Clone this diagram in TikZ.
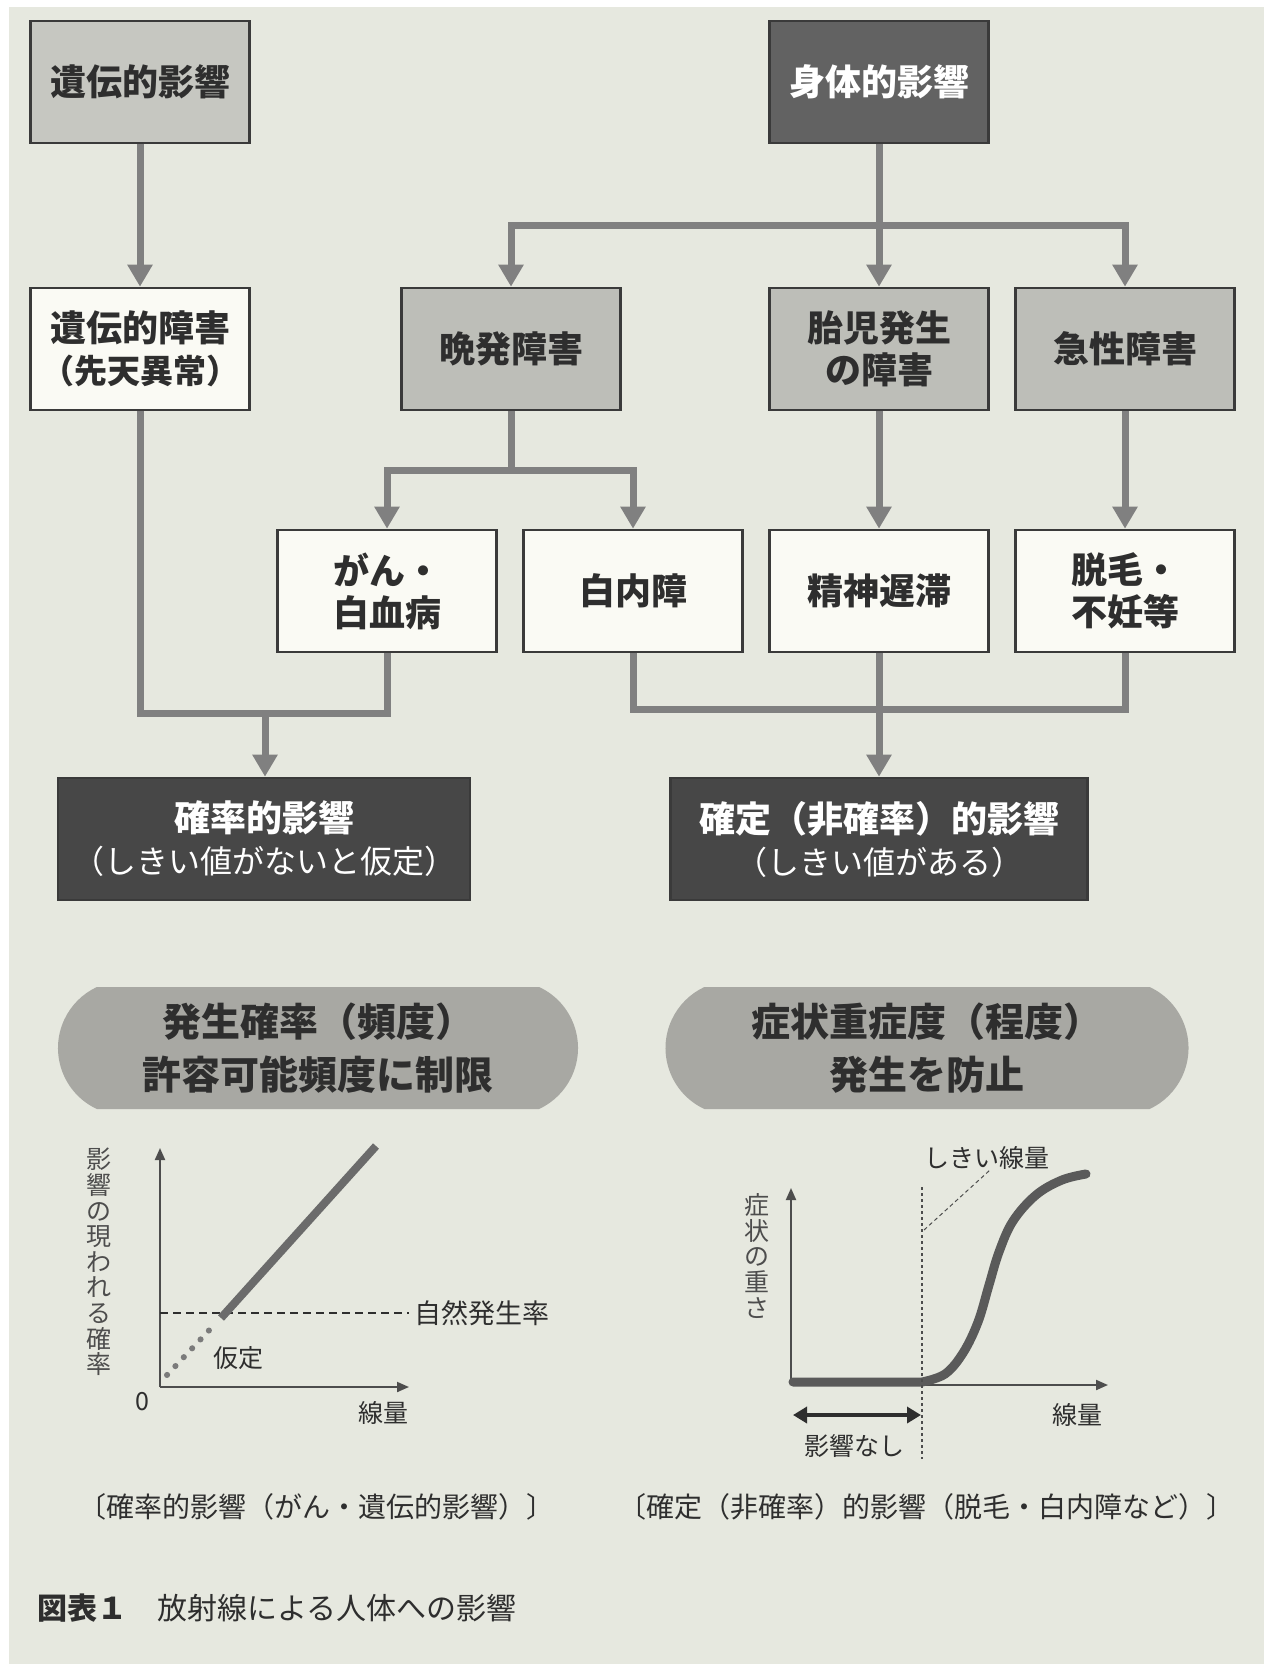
\documentclass[tikz,border=0pt]{standalone}
\usepackage{fontspec}
\setmainfont{Noto Sans CJK JP}
\usetikzlibrary{arrows.meta,shapes.misc,calc}
\definecolor{bgc}{HTML}{E6E8DF}
\definecolor{gboxa}{HTML}{C6C7C1}
\definecolor{gbox}{HTML}{BDBEB8}
\definecolor{wbox}{HTML}{FAFAF4}
\definecolor{dboxa}{HTML}{626262}
\definecolor{dbox}{HTML}{474747}
\definecolor{pillc}{HTML}{A8A8A3}
\definecolor{connc}{HTML}{808080}
\definecolor{boxline}{HTML}{3A3A3A}
\definecolor{txt}{HTML}{2E2E2E}
\definecolor{curvec}{HTML}{5A5A5A}
\begin{document}
\begin{tikzpicture}[x=0.5pt,y=-0.5pt,
  box/.style={draw=boxline, line width=1.3pt, minimum width=109.5pt, minimum height=61pt,
    inner sep=0pt, align=center, text=txt, font=\fontsize{18}{21}\selectfont\bfseries},
  grayboxa/.style={box, fill=gboxa},
  graybox/.style={box, fill=gbox},
  whitebox/.style={box, fill=wbox},
  darkbox/.style={box, fill=dbox, text=white, minimum height=61pt},
  pill/.style={rounded rectangle, rounded rectangle arc length=130, fill=pillc, minimum height=61pt,
    inner sep=0pt, align=center, text=txt, font=\fontsize{19.5}{26.5}\selectfont\bfseries},
  conn/.style={draw=connc, line width=3.5pt},
  arr/.style={conn, -{Triangle[width=12pt,length=11pt]}},
  darr/.style={conn, {Triangle[width=12pt,length=11pt]}-{Triangle[width=12pt,length=11pt]}},
  axisline/.style={draw=txt!85, line width=1pt, -{Triangle[width=5pt,length=6pt]}},
  lbl/.style={text=txt, font=\fontsize{12.5}{13}\selectfont, inner sep=0pt},
  vlbl/.style={text=txt!85, font=\fontsize{12.5}{12.8}\selectfont, inner sep=0pt, align=center},
  captext/.style={text=txt, font=\fontsize{14}{16}\selectfont, inner sep=0pt}
]
\fill[white] (0,0) rectangle (1264,1664);
\fill[bgc] (9,7) rectangle (1264,1664);
\useasboundingbox (0,0) rectangle (1264,1664);

% top row
\node[grayboxa] (iden1) at (140,82) {遺伝的影響};
\node[box, fill=dboxa, text=white] (shintai) at (879,82) {身体的影響};
% second row
\node[whitebox] (iden2) at (140,349) {遺伝的障害\\{\fontsize{16.5}{19}\selectfont （先天異常）}};
\node[graybox] (banpatsu) at (511,349) {晩発障害};
\node[graybox] (taiji) at (879,349) {胎児発生\\の障害};
\node[graybox] (kyusei) at (1125,349) {急性障害};
% third row
\node[whitebox] (gan) at (387,591) {がん・\\白血病};
\node[whitebox] (hakunai) at (633,591) {白内障};
\node[whitebox] (seishin) at (879,591) {精神遅滞};
\node[whitebox] (datsumo) at (1125,591) {脱毛・\\不妊等};
% result boxes
\node[darkbox, minimum width=206pt] (kakuritsu) at (264,839)
  {確率的影響\\{\fontsize{16}{20}\selectfont\mdseries （しきい値がないと仮定）}};
\node[darkbox, minimum width=208.5pt] (kakutei) at (879,839)
  {確定（非確率）的影響\\{\fontsize{16}{20}\selectfont\mdseries （しきい値がある）}};
% pills
\node[pill, minimum width=260pt] (pillL) at (318,1048) {発生確率（頻度）\\許容可能頻度に制限};
\node[pill, minimum width=261.5pt] (pillR) at (927,1048) {症状重症度（程度）\\発生を防止};

% connectors
\coordinate (j1) at (879,226);
\coordinate (j2) at (511,470);
\coordinate (jl) at (265,713);
\coordinate (jr) at (879,709);
\draw[arr] (iden1.south) -- (iden2.north);
\draw[arr] (shintai.south) -- (taiji.north);
\draw[darr] (banpatsu.north) |- (j1) -| (kyusei.north);
\draw[conn] (banpatsu.south) -- (j2);
\draw[darr] (gan.north) |- (j2) -| (hakunai.north);
\draw[arr] (taiji.south) -- (seishin.north);
\draw[arr] (kyusei.south) -- (datsumo.north);
\draw[conn] (iden2.south) |- (jl) -| (gan.south);
\draw[arr] (jl) -- (jl |- kakuritsu.north);
\draw[conn] (hakunai.south) |- (jr) -| (datsumo.south);
\draw[arr] (seishin.south) -- (kakutei.north);

% left graph
\coordinate (o1) at (160,1387);
\coordinate (yt1) at (160,1148);
\coordinate (xe1) at (409,1387);
\draw[axisline] (o1) -- (yt1);
\draw[axisline] (o1) -- (xe1);
\coordinate (nat1) at (160,1313);
\coordinate (nat2) at (409,1313);
\draw[txt, line width=0.7pt, dash pattern=on 4pt off 2.5pt] (nat1) -- (nat2);
\node[lbl, anchor=west, font=\fontsize{13.5}{14}\selectfont] (natlbl) at (414,1313) {自然発生率};
\coordinate (ls1) at (221,1318);
\coordinate (ls2) at (376,1146);
\draw[draw=curvec!90, line width=4pt] (ls1) -- (ls2);
\coordinate (ld1) at (167,1375);
\coordinate (ld2) at (216,1323);
\draw[draw=curvec!80, line width=3pt, line cap=round, dash pattern=on 0.1pt off 6pt] (ld1) -- (ld2);
\node[lbl] (katei) at (238,1358) {仮定};
\node[lbl] (zero) at (142,1402) {0};
\node[lbl] (senryo1) at (383,1413) {線量};
\node[vlbl] (ylbl1) at (99,1262) {影\\響\\の\\現\\わ\\れ\\る\\確\\率};

% right graph
\coordinate (o2) at (791,1385);
\coordinate (yt2) at (791,1188);
\coordinate (xe2) at (1108,1385);
\draw[axisline] (o2) -- (yt2);
\draw[axisline] (o2) -- (xe2);
\coordinate (th) at (922,1382);
\draw[draw=curvec, line width=4.5pt, line join=round, line cap=round]
  (793,1382) -- (th)
  plot[smooth, tension=0.6] coordinates {(th) (945,1374) (963,1353) (978,1322) (989,1285) (999,1252) (1013,1221) (1036,1195) (1062,1180) (1086,1174)};
\coordinate (dv1) at (922,1187);
\coordinate (dv2) at (922,1459);
\draw[txt!85, line width=1pt, dash pattern=on 1.5pt off 1.5pt] (dv1) -- (dv2);
\coordinate (lead1) at (924,1230);
\coordinate (lead2) at (990,1170);
\draw[txt!85, line width=0.5pt, dash pattern=on 2pt off 1.5pt] (lead1) -- (lead2);
\node[lbl, anchor=west] (shikii) at (924,1158) {しきい線量};
\coordinate (da1) at (793,1415);
\coordinate (da2) at (921,1415);
\draw[txt, line width=2pt, {Triangle[width=8pt,length=7pt]}-{Triangle[width=8pt,length=7pt]}] (da1) -- (da2);
\node[lbl] (nashi) at (854,1446) {影響なし};
\node[lbl] (senryo2) at (1077,1415) {線量};
\node[vlbl] (ylbl2) at (757,1256) {症\\状\\の\\重\\さ};

% captions
\node[captext] (capL) at (316,1507) {〔確率的影響（がん・遺伝的影響）〕};
\node[captext] (capR) at (926,1507) {〔確定（非確率）的影響（脱毛・白内障など）〕};
\node[captext, anchor=west, font=\fontsize{15}{17}\selectfont] (fig) at (37,1608) {\textbf{図表１}　放射線による人体への影響};
\end{tikzpicture}
\end{document}
